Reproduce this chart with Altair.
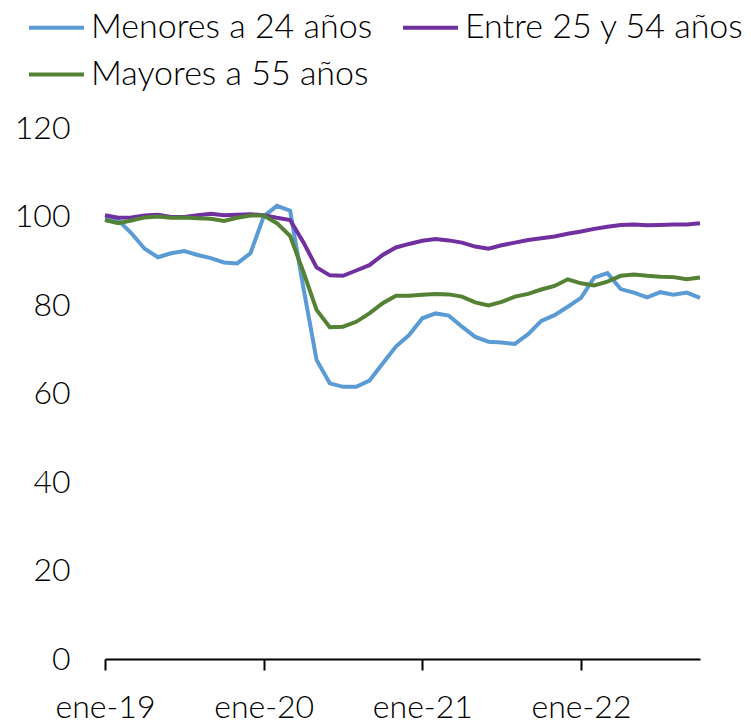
import altair as alt
import pandas as pd

meses = ["ene", "feb", "mar", "abr", "may", "jun", "jul", "ago", "sep", "oct", "nov", "dic"]
periodos = [f"{m}-{y}" for y in range(19, 23) for m in meses][:46]

menores = [99.6, 99.2, 96.2, 92.7, 90.8, 91.7, 92.2, 91.3, 90.6, 89.6, 89.4, 91.7,
           100.0, 102.4, 101.3, 84.0, 67.6, 62.3, 61.5, 61.5, 62.9, 66.8, 70.6, 73.2,
           77.0, 78.1, 77.6, 75.1, 72.8, 71.7, 71.5, 71.2, 73.4, 76.4, 77.7, 79.6,
           81.6, 86.2, 87.2, 83.6, 82.8, 81.7, 82.9, 82.3, 82.8, 81.6]
entre = [100.3, 99.7, 99.8, 100.2, 100.4, 99.9, 99.9, 100.3, 100.6, 100.3, 100.4, 100.5,
         100.3, 99.7, 99.2, 94.2, 88.5, 86.7, 86.6, 87.8, 89.0, 91.3, 93.0, 93.8,
         94.5, 94.9, 94.6, 94.1, 93.2, 92.7, 93.5, 94.1, 94.7, 95.1, 95.5, 96.1,
         96.6, 97.2, 97.7, 98.1, 98.2, 98.0, 98.1, 98.2, 98.2, 98.5]
mayores = [99.2, 98.5, 99.1, 99.8, 100.0, 99.7, 99.8, 99.6, 99.5, 99.0, 99.7, 100.2,
           100.2, 98.5, 95.6, 87.5, 78.9, 75.0, 75.1, 76.2, 78.1, 80.4, 82.1, 82.1,
           82.3, 82.5, 82.4, 81.9, 80.6, 79.9, 80.7, 81.9, 82.5, 83.5, 84.3, 85.8,
           84.9, 84.4, 85.3, 86.6, 86.9, 86.6, 86.4, 86.3, 85.8, 86.2]

series = ["Menores a 24 años", "Entre 25 y 54 años", "Mayores a 55 años"]
colores = ["#5B9BD5", "#7030A0", "#548235"]
ticks_x = ["ene-19", "ene-20", "ene-21", "ene-22"]
ticks_y = [0, 20, 40, 60, 80, 100, 120]

rows = []
for name, vals in zip(series, [menores, entre, mayores]):
    for i, (p, v) in enumerate(zip(periodos, vals)):
        rows.append({"periodo": p, "idx": i, "serie": name, "valor": v})
df = pd.DataFrame(rows)

FONT = "Lato"

chart = alt.Chart(df).mark_line(strokeWidth=4).encode(
    x=alt.X("periodo:O", sort=periodos,
            scale=alt.Scale(type="point", padding=0),
            axis=alt.Axis(values=ticks_x, title=None, labelAngle=0,
                          domainColor="black", domainWidth=2,
                          tickColor="black", tickWidth=2, tickSize=11,
                          labelPadding=22, labelFont=FONT, labelFontSize=32,
                          labelFontWeight=300, labelColor="black", grid=False)),
    y=alt.Y("valor:Q", scale=alt.Scale(domain=[0, 120], nice=False),
            axis=alt.Axis(values=ticks_y, title=None, domain=False, ticks=False,
                          grid=False, labelPadding=35, labelFont=FONT,
                          labelFontSize=32, labelFontWeight=300, labelColor="black")),
    color=alt.Color("serie:N", sort=series,
                    scale=alt.Scale(domain=series, range=colores),
                    legend=alt.Legend(title=None, orient="none", legendX=-78, legendY=-130,
                                      columns=2, direction="horizontal",
                                      symbolType="stroke", symbolSize=3025,
                                      symbolStrokeWidth=4, labelFont=FONT, labelFontSize=34,
                                      labelFontWeight=300, labelColor="black", labelLimit=500,
                                      labelOffset=5, columnPadding=22, rowPadding=-9,
                                      padding=0)),
    order="idx:Q",
).properties(
    width=595, height=531,
    autosize=alt.AutoSizeParams(type="none"),
    padding={"left": 97, "top": 120, "right": 43, "bottom": 62},
).configure_view(stroke=None)

chart.save("out.html", embed_options={"renderer": "svg", "actions": False})
